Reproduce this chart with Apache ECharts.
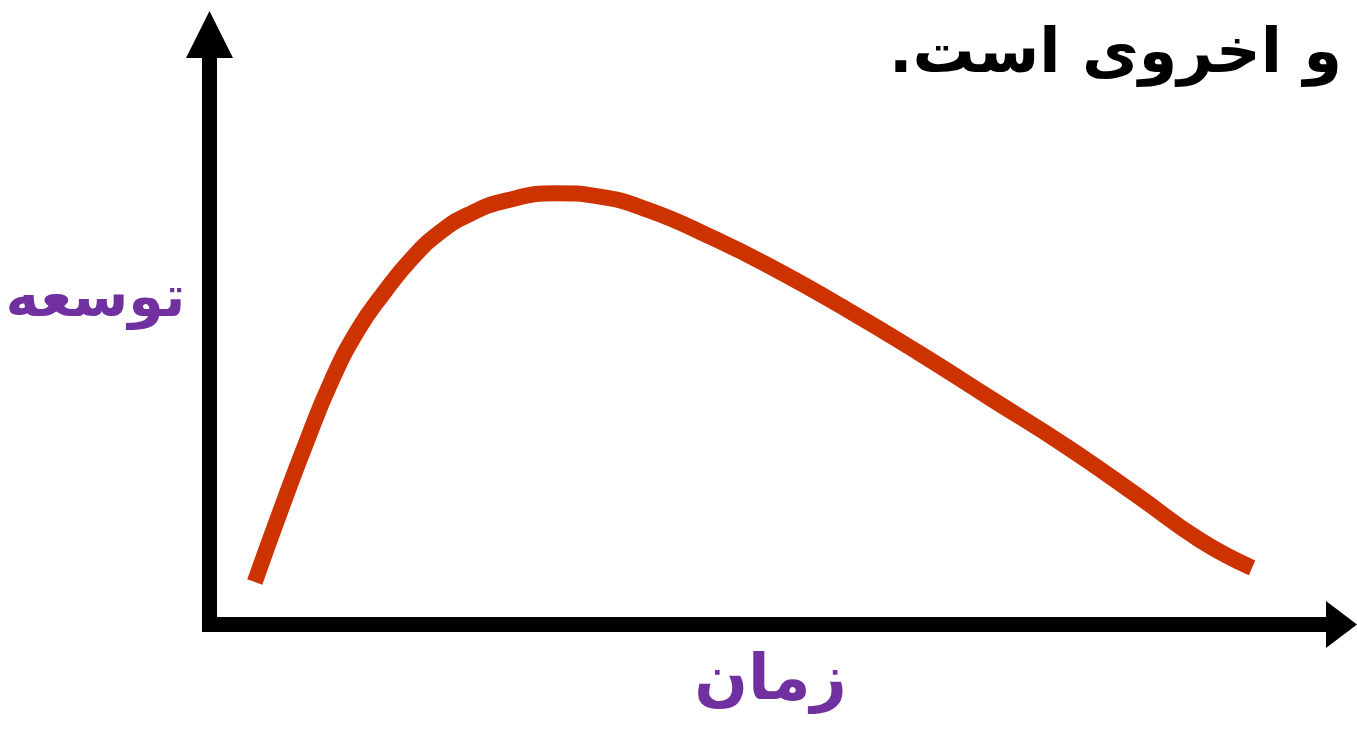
<!DOCTYPE html>
<html>
<head>
<meta charset="utf-8">
<script src="https://cdn.jsdelivr.net/npm/echarts@6/dist/echarts.min.js"></script>
<style>
  html, body { margin: 0; padding: 0; background: #fff; }
  #chart { width: 1357px; height: 733px; }
</style>
</head>
<body>
<div id="chart" dir="rtl"></div>
<script>
// زمان (time), 0..100
var timeData = [4.0, 6.2, 8.4, 10.8, 13.1, 15.4, 17.9, 20.3, 22.8, 26.1, 30.7, 34.2, 38.7, 44.5, 49.8, 56.2, 62.7, 69.1, 75.6, 82.0, 87.5, 92.1]
// توسعه (development), 0..100
var growthData = [7.2, 18.9, 30.1, 41.4, 49.9, 56.2, 62.1, 66.4, 69.4, 71.8, 73.1, 72.6, 70.3, 65.5, 60.4, 53.5, 46.0, 38.2, 30.3, 21.8, 14.3, 9.6]

var titleText = 'و اخروی است.'
var xName = 'زمان'
var yName = 'توسعه'

var points = timeData.map(function (t, i) { return [t, growthData[i]] })

var myChart = echarts.init(document.getElementById('chart'))
myChart.setOption({
  backgroundColor: '#fff',
  animation: false,
  title: {
    text: titleText,
    right: 10,
    top: 20,
    textStyle: {
      fontFamily: 'DejaVu Sans',
      fontWeight: 'bold',
      fontSize: 62,
      color: '#000'
    }
  },
  grid: {
    left: 209.5,
    right: 15.5,
    top: 34.5,
    bottom: 108.5,
    outerBoundsMode: 'none'
  },
  xAxis: {
    type: 'value',
    min: 0,
    max: 100,
    name: xName,
    nameLocation: 'middle',
    nameGap: 27,
    nameTextStyle: {
      fontFamily: 'DejaVu Sans',
      fontWeight: 'bold',
      fontSize: 63,
      color: '#7030a0',
      verticalAlign: 'top',
      padding: [0, 10, 0, 0]
    },
    axisLine: {
      lineStyle: { color: '#000', width: 15 },
      symbol: ['none', 'triangle'],
      symbolSize: [47, 31]
    },
    axisTick: { show: false },
    axisLabel: { show: false },
    splitLine: { show: false }
  },
  yAxis: {
    type: 'value',
    min: 0,
    max: 100,
    name: yName,
    nameLocation: 'middle',
    nameRotate: 0,
    nameGap: 24,
    nameTextStyle: {
      fontFamily: 'DejaVu Sans',
      fontWeight: 'bold',
      fontSize: 57,
      color: '#7030a0',
      align: 'right',
      verticalAlign: 'bottom'
    },
    axisLine: {
      lineStyle: { color: '#000', width: 15, cap: 'square' },
      symbol: ['none', 'triangle'],
      symbolSize: [47, 47]
    },
    axisTick: { show: false },
    axisLabel: { show: false },
    splitLine: { show: false }
  },
  series: [
    {
      type: 'line',
      data: points,
      smooth: 0.5,
      symbol: 'none',
      lineStyle: { color: '#cc3300', width: 16, cap: 'butt' }
    }
  ]
})
</script>
</body>
</html>
